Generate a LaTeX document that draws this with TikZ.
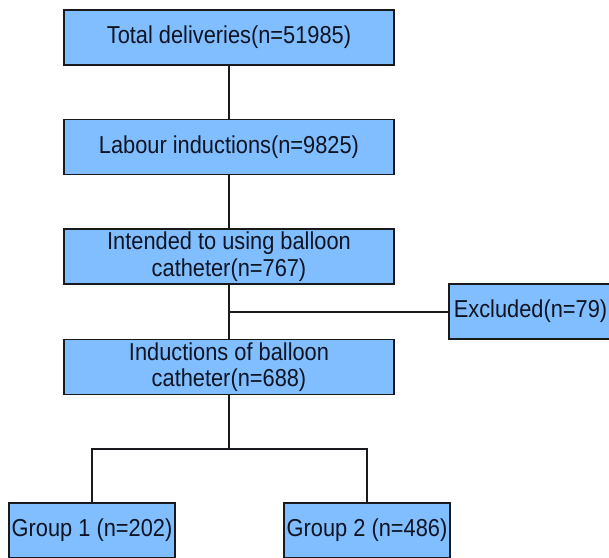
\documentclass[tikz,border=0pt]{standalone}
\usepackage{fontspec}
\setmainfont[FakeStretch=0.89]{Liberation Sans}
\definecolor{boxblue}{RGB}{128,190,255}
\definecolor{edgecol}{RGB}{25,25,30}
\definecolor{textcol}{RGB}{15,20,35}
\begin{document}
\begin{tikzpicture}[x=1pt,y=1pt,
  flowbox/.style={draw=edgecol, line width=1.5pt, fill=boxblue, rectangle, inner sep=0pt,
    align=center, font=\fontsize{24.5}{26.5}\selectfont, text=textcol},
  mainbox/.style={flowbox, minimum width=330pt, minimum height=55pt},
  sidebox/.style={flowbox, minimum width=166pt, minimum height=55pt},
  link/.style={draw=edgecol, line width=1.6pt}]
\useasboundingbox (0,0) rectangle (609,-557);
\clip (0,0) rectangle (609,-557);
\node[mainbox] (total) at (229,-37.5) {Total deliveries(n=51985)};
\node[mainbox] (labour) at (229,-147) {Labour inductions(n=9825)};
\node[mainbox] (intended) at (229,-256.5) {Intended to using balloon\\catheter(n=767)};
\node[mainbox] (induct) at (229,-367) {Inductions of balloon\\catheter(n=688)};
\node[sidebox, minimum width=163pt] (excl) at (530.5,-311.5) {Excluded(n=79)};
\node[sidebox] (g1) at (92,-530.5) {Group 1 (n=202)};
\node[sidebox] (g2) at (367,-530.5) {Group 2 (n=486)};
\coordinate (exj) at (229,-312);
\coordinate (br) at (229,-449);
\draw[link] (total) -- (labour);
\draw[link] (labour) -- (intended);
\draw[link] (intended) -- (induct);
\draw[link] (exj) -- (excl.west |- exj);
\draw[link] (induct) -- (br);
\draw[link] (g1.north) |- (br) -| (g2.north);
\end{tikzpicture}
\end{document}
